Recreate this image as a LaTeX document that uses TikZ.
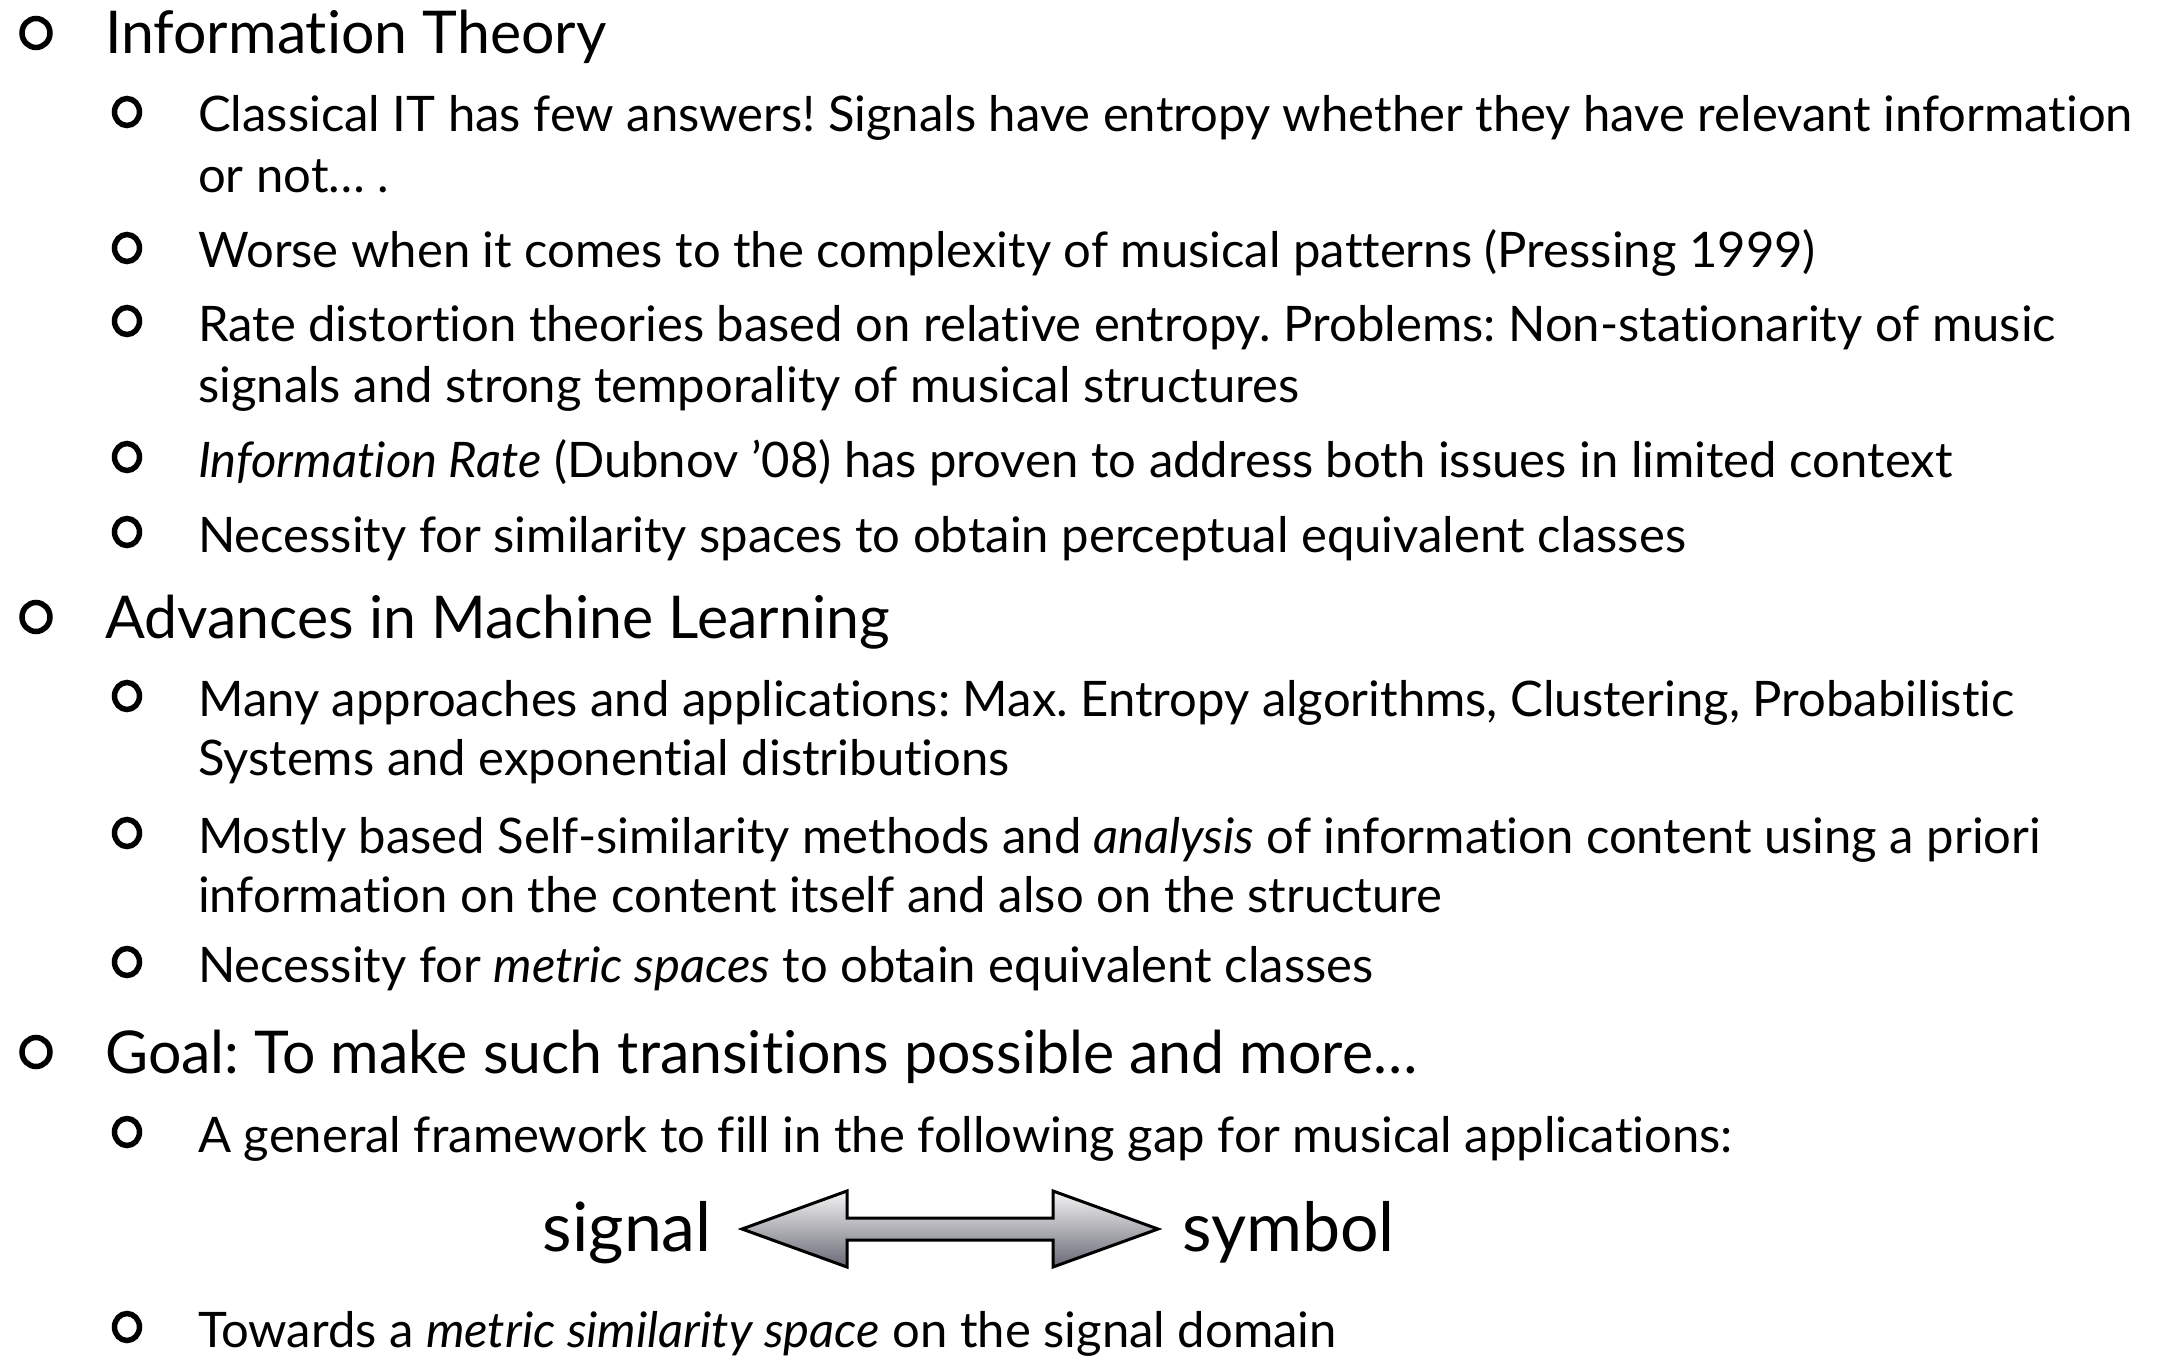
\documentclass[tikz,border=0pt]{standalone}
\usepackage{fontspec}
\setmainfont{Lato}[Ligatures=NoCommon]
\usetikzlibrary{positioning, shapes, arrows}

\definecolor{arrowdark}{RGB}{105,105,118}

\tikzset{
  toplevel/.style={anchor=base west, inner sep=0pt, font=\fontsize{59}{59}\selectfont},
  sublevel/.style={anchor=base west, inner sep=0pt, font=\fontsize{49}{49}\selectfont},
  ring/.style={draw, ellipse, line width=5.5pt, minimum width=25pt, minimum height=27pt, inner sep=0pt},
  bigring/.style={ring, minimum width=28pt, minimum height=29pt},
  bigword/.style={inner sep=0pt, font=\fontsize{68}{68}\selectfont},
  arrowfill/.style={draw, line width=3pt, line join=miter, top color=gray!8, bottom color=arrowdark},
}

\begin{document}
\frenchspacing
\begin{tikzpicture}[x=1pt, y=-1pt]
\fill[white] (0,0) rectangle (2167,1356);
\useasboundingbox (0,0) rectangle (2167,1356);

% Information Theory
\node (it) [toplevel] at (105,54) {Information Theory};
\node (bit) [bigring] at (36,33) {};
\node (it1a) [sublevel] at (198,132) {Classical IT has few answers! Signals have entropy whether they have relevant information};
\node (it1b) [sublevel] at (198,193) {or not… .};
\node (bit1) [ring] at (127,112) {};
\node (it2) [sublevel] at (198,268) {Worse when it comes to the complexity of musical patterns (Pressing 1999)};
\node (bit2) [ring] at (127,248) {};
\node (it3a) [sublevel] at (198,341) {Rate distortion theories based on relative entropy. Problems: Non-stationarity of music};
\node (it3b) [sublevel] at (198,402) {signals and strong temporality of musical structures};
\node (bit3) [ring] at (127,321) {};
\node (it4) [sublevel] at (198,477) {\textit{Information Rate} (Dubnov ’08) has proven to address both issues in limited context};
\node (bit4) [ring] at (127,457) {};
\node (it5) [sublevel] at (198,552) {Necessity for similarity spaces to obtain perceptual equivalent classes};
\node (bit5) [ring] at (127,532) {};

% Machine Learning
\node (ml) [toplevel] at (105,638) {Advances in Machine Learning};
\node (bml) [bigring] at (36,617) {};
\node (ml1a) [sublevel] at (198,716) {Many approaches and applications: Max. Entropy algorithms, Clustering, Probabilistic};
\node (ml1b) [sublevel] at (198,775) {Systems and exponential distributions};
\node (bml1) [ring] at (127,696) {};
\node (ml2a) [sublevel] at (198,853) {Mostly based Self-similarity methods and \textit{analysis} of information content using a priori};
\node (ml2b) [sublevel] at (198,912) {information on the content itself and also on the structure};
\node (bml2) [ring] at (127,833) {};
\node (ml3) [sublevel] at (198,982) {Necessity for \textit{metric spaces} to obtain equivalent classes};
\node (bml3) [ring] at (127,962) {};

% Goal
\node (goal) [toplevel] at (105,1073) {Goal:\ To make such transitions possible and more…};
\node (bgoal) [bigring] at (36,1052) {};
\node (g1) [sublevel] at (198,1152) {A general framework to fill in the following gap for musical applications:};
\node (bg1) [ring] at (127,1132) {};
\node (signal) [bigword, anchor=base east] at (712,1251) {signal};
\node (symbol) [bigword, anchor=base west] at (1182,1251) {symbol};
\coordinate (la) at ([xshift=30pt]signal.east |- 0,1229);
\shadedraw[arrowfill] (la) -- ++(105,38) -- ++(0,-27) -- ++(206,0) -- ++(0,27) -- ++(105,-38)
  -- ++(-105,-38) -- ++(0,27) -- ++(-206,0) -- ++(0,-27) -- cycle;
\node (g2) [sublevel] at (198,1347) {Towards a \textit{metric similarity space} on the signal domain};
\node (bg2) [ring] at (127,1327) {};
\end{tikzpicture}
\end{document}
